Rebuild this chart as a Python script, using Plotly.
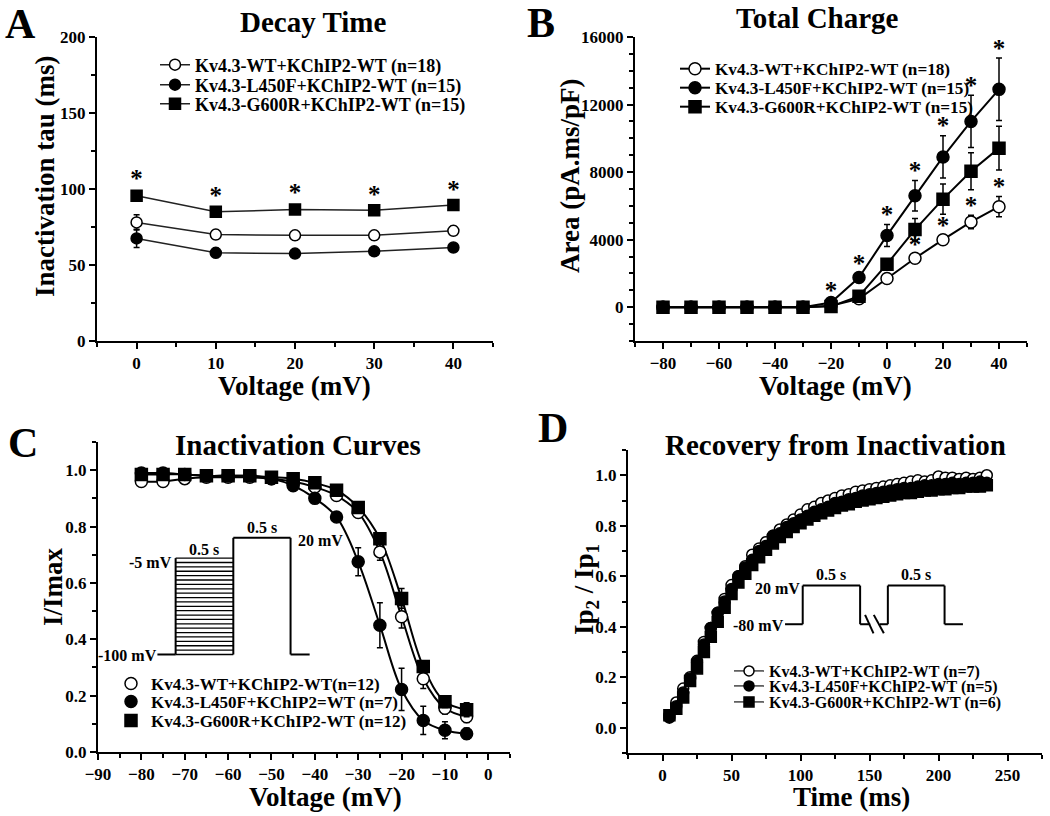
import plotly.graph_objects as go

FONT = "Liberation Serif"
W, H = 1050, 816

# ---------------- Data ----------------
# Panel A: Decay time
A_volt = [0, 10, 20, 30, 40]
A_wt = [78, 70, 69.5, 69.5, 72.5]
A_wt_err = [5, 3, 3, 3, 3]
A_l450f = [67.5, 58, 57.5, 59, 61.5]
A_l450f_err = [6, 3, 2, 2, 2]
A_g600r = [95.5, 85, 86.5, 86, 89.5]
A_g600r_err = [3, 2, 3, 2, 2]
A_labels = ["Kv4.3-WT+KChIP2-WT (n=18)", "Kv4.3-L450F+KChIP2-WT (n=15)", "Kv4.3-G600R+KChIP2-WT (n=15)"]

# Panel B: Total charge
B_volt = [-80, -70, -60, -50, -40, -30, -20, -10, 0, 10, 20, 30, 40]
B_wt = [0, 0, 0, 0, 0, 0, 80, 500, 1700, 2900, 4000, 5050, 5950]
B_wt_err = [0, 0, 0, 0, 0, 0, 50, 150, 250, 250, 250, 400, 600]
B_l450f = [0, 0, 0, 0, 0, 0, 280, 1760, 4250, 6600, 8900, 11000, 12900]
B_l450f_err = [0, 0, 0, 0, 0, 0, 150, 250, 650, 900, 1250, 1550, 1850]
B_g600r = [0, 0, 0, 0, 0, 0, 50, 650, 2550, 4600, 6400, 8050, 9420]
B_g600r_err = [0, 0, 0, 0, 0, 0, 50, 150, 300, 650, 900, 1100, 1300]
B_labels = ["Kv4.3-WT+KChIP2-WT (n=18)", "Kv4.3-L450F+KChIP2-WT (n=15)", "Kv4.3-G600R+KChIP2-WT (n=15)"]
B_star_l450f = [-20, -10, 0, 10, 20, 30, 40]
B_star_wt = [10, 20, 30, 40]

# Panel C: Inactivation curves
C_volt = [-80, -75, -70, -65, -60, -55, -50, -45, -40, -35, -30, -25, -20, -15, -10, -5]
C_wt = [0.96, 0.96, 0.97, 0.975, 0.975, 0.975, 0.97, 0.96, 0.94, 0.91, 0.85, 0.71, 0.48, 0.26, 0.155, 0.125]
C_wt_err = [0, 0, 0, 0, 0, 0, 0, 0, 0.01, 0.01, 0.01, 0.03, 0.04, 0.035, 0.02, 0.02]
C_l450f = [0.99, 0.99, 0.985, 0.98, 0.98, 0.98, 0.97, 0.945, 0.90, 0.834, 0.675, 0.45, 0.222, 0.112, 0.077, 0.065]
C_l450f_err = [0, 0, 0, 0, 0, 0, 0, 0.01, 0.01, 0.015, 0.05, 0.08, 0.075, 0.05, 0.03, 0.02]
C_g600r = [0.985, 0.985, 0.985, 0.98, 0.98, 0.98, 0.975, 0.97, 0.955, 0.929, 0.868, 0.757, 0.545, 0.303, 0.178, 0.15]
C_g600r_err = [0, 0, 0, 0, 0, 0, 0, 0, 0, 0.01, 0.01, 0.01, 0.035, 0.02, 0.02, 0.025]
C_labels = ["Kv4.3-WT+KChIP2-WT(n=12)", "Kv4.3-L450F+KChIP2=WT (n=7)", "Kv4.3-G600R+KChIP2-WT (n=12)"]

# Panel D: Recovery from inactivation
D_time = list(range(5, 240, 5))
D_wt = [0.05, 0.10, 0.155, 0.20, 0.265, 0.34, 0.395, 0.455, 0.51, 0.565,
        0.60, 0.64, 0.685, 0.71, 0.735, 0.76, 0.785, 0.805, 0.825, 0.845,
        0.865, 0.875, 0.89, 0.90, 0.91, 0.92, 0.925, 0.935, 0.94, 0.945,
        0.95, 0.955, 0.96, 0.965, 0.97, 0.975, 0.98, 0.975, 0.98, 0.995,
        0.99, 0.99, 0.985, 0.99, 0.985, 0.99, 1.0]
D_l450f = [0.04, 0.085, 0.14, 0.195, 0.26, 0.33, 0.395, 0.455, 0.50, 0.55,
           0.60, 0.635, 0.665, 0.70, 0.72, 0.76, 0.77, 0.795, 0.81, 0.825,
           0.84, 0.855, 0.865, 0.875, 0.89, 0.895, 0.905, 0.91, 0.92, 0.925,
           0.93, 0.935, 0.94, 0.945, 0.95, 0.95, 0.955, 0.96, 0.96, 0.965,
           0.965, 0.97, 0.965, 0.97, 0.97, 0.975, 0.97]
D_g600r = [0.05, 0.075, 0.12, 0.185, 0.235, 0.30, 0.36, 0.42, 0.475, 0.53,
           0.575, 0.61, 0.645, 0.675, 0.705, 0.73, 0.755, 0.775, 0.795, 0.81,
           0.825, 0.84, 0.85, 0.86, 0.87, 0.88, 0.885, 0.895, 0.90, 0.905,
           0.91, 0.915, 0.92, 0.925, 0.93, 0.93, 0.935, 0.94, 0.94, 0.945,
           0.945, 0.95, 0.95, 0.955, 0.955, 0.955, 0.96]
D_labels = ["Kv4.3-WT+KChIP2-WT (n=7)", "Kv4.3-L450F+KChIP2-WT (n=5)", "Kv4.3-G600R+KChIP2-WT (n=6)"]

# ---------------- Helpers ----------------
def fnt(size):
    return dict(family=FONT, size=size, color="black", weight="bold")

def px(x):
    return x / W

def py(y):
    return 1 - y / H

STYLES = [
    dict(symbol="circle", color="white"),
    dict(symbol="circle", color="black"),
    dict(symbol="square", color="black"),
]

fig = go.Figure()
legend_layouts = {}
legend_counter = [0]

def add_series(xs, ys, errs, i, xa, ya, mode, lw=1.5, lcolor="#222", msize=11):
    st = STYLES[i]
    fig.add_trace(go.Scatter(
        x=xs, y=ys, mode=mode, showlegend=False, xaxis=xa, yaxis=ya,
        line=dict(color=lcolor, width=lw),
        marker=dict(symbol=st["symbol"], size=msize, color=st["color"],
                    line=dict(color="black", width=1.5)),
        error_y=dict(type="data", array=errs, color="black", thickness=1.5, width=3,
                     visible=errs is not None),
    ))

def add_legend(labels, xa, ya, with_line, marker_x, rows, size, lcolor="#222", lw=1.5, msize=11):
    # one single-entry legend per row so the row spacing matches the figure
    for i, lab in enumerate(labels):
        st = STYLES[i]
        legend_counter[0] += 1
        n = legend_counter[0]
        lname = "legend" if n == 1 else f"legend{n}"
        fig.add_trace(go.Scatter(
            x=[None], y=[None], mode="lines+markers" if with_line else "markers",
            name=lab, legend=lname, xaxis=xa, yaxis=ya,
            line=dict(color=lcolor, width=lw),
            marker=dict(symbol=st["symbol"], size=msize, color=st["color"],
                        line=dict(color="black", width=1.5)),
        ))
        legend_layouts[lname] = dict(
            x=px(marker_x - 21), y=py(rows[i]), xanchor="left", yanchor="middle",
            bgcolor="rgba(0,0,0,0)", font=fnt(size), itemwidth=30, borderwidth=0)

def add_stars(xs, ys, xa, ya):
    fig.add_trace(go.Scatter(x=xs, y=ys, mode="text", text=["*"] * len(xs),
                             textposition="middle center", textfont=fnt(25),
                             showlegend=False, xaxis=xa, yaxis=ya, hoverinfo="skip"))

# ---- Panel A ----
for i, (v, e) in enumerate([(A_wt, A_wt_err), (A_l450f, A_l450f_err), (A_g600r, A_g600r_err)]):
    add_series(A_volt, v, e, i, "x", "y", "lines+markers")
add_stars(A_volt, [v + e + 7 for v, e in zip(A_g600r, A_g600r_err)], "x", "y")
add_legend(A_labels, "x", "y", True, 176, [65, 85, 104], 18)

# ---- Panel B ----
for i, (v, e) in enumerate([(B_wt, B_wt_err), (B_l450f, B_l450f_err), (B_g600r, B_g600r_err)]):
    add_series(B_volt, v, e, i, "x2", "y2", "lines+markers", lw=2, lcolor="black", msize=12)
sx, sy = [], []
for xv in B_star_l450f:
    k = B_volt.index(xv)
    sx.append(xv); sy.append(B_l450f[k] + B_l450f_err[k] + 450)
for xv in B_star_wt:
    k = B_volt.index(xv)
    sx.append(xv); sy.append(B_wt[k] + B_wt_err[k] + 450)
add_stars(sx, sy, "x2", "y2")
add_legend(B_labels, "x2", "y2", True, 696, [69, 88, 107], 17.2, lcolor="black", lw=2, msize=12)

# ---- Panel C ----
for v in [C_wt, C_g600r, C_l450f]:
    fig.add_trace(go.Scatter(x=C_volt, y=v, mode="lines", line=dict(color="black", width=2, shape="spline", smoothing=1.0),
                             showlegend=False, xaxis="x3", yaxis="y3", hoverinfo="skip"))
for i, (v, e) in enumerate([(C_wt, C_wt_err), (C_l450f, C_l450f_err), (C_g600r, C_g600r_err)]):
    add_series(C_volt, v, e, i, "x3", "y3", "markers", msize=12)
add_legend(C_labels, "x3", "y3", False, 132, [684, 702, 721], 17, msize=12)

# ---- Panel D ----
for i, v in enumerate([D_wt, D_l450f, D_g600r]):
    add_series(D_time, v, None, i, "x4", "y4", "markers", msize=11)
add_legend(D_labels, "x4", "y4", True, 750, [671, 686, 702], 16, lcolor="#444", lw=1.5, msize=10)

# ---------------- Axes ----------------
def axis(domain, rng, dtick, minor_dtick, anchor, tick0=0, fmt=None):
    d = dict(domain=domain, range=rng, anchor=anchor, showline=True, linecolor="black",
             linewidth=2, ticks="outside", ticklen=6, tickwidth=2, tickcolor="black",
             dtick=dtick, tick0=tick0, showgrid=False, zeroline=False,
             tickfont=fnt(17), automargin=False,
             minor=dict(dtick=minor_dtick, ticks="outside", ticklen=4, tickwidth=1.5,
                        tickcolor="black", showgrid=False))
    if fmt:
        d["tickformat"] = fmt
    return d

A_dom_x = [px(97), px(493)]
A_dom_y = [py(341), py(37)]
B_dom_x = [px(635), px(1027)]
C_dom_x = [px(98), px(510)]
C_dom_y = [py(752), py(442)]
D_dom_x = [px(628), px(1042)]
D_dom_y = [py(753), py(450)]

layout = dict(
    width=W, height=H, margin=dict(l=0, r=0, t=0, b=0, pad=0, autoexpand=False),
    paper_bgcolor="white", plot_bgcolor="white",
    font=fnt(15),
    xaxis=axis(A_dom_x, [-5, 45], 10, 5, "y"),
    yaxis=axis(A_dom_y, [0, 200], 50, 25, "x"),
    xaxis2=axis(B_dom_x, [-90, 50], 20, 10, "y2", tick0=-80),
    yaxis2=axis(A_dom_y, [-2000, 16000], 4000, 1000, "x2", fmt="d"),
    xaxis3=axis(C_dom_x, [-90, 5], 10, 5, "y3"),
    yaxis3=axis(C_dom_y, [0, 1.1], 0.2, 0.1, "x3", fmt=".1f"),
    xaxis4=axis(D_dom_x, [-25, 275], 50, 25, "y4"),
    yaxis4=axis(D_dom_y, [-0.1, 1.1], 0.2, 0.1, "x4", fmt=".1f"),
)
layout.update(legend_layouts)
fig.update_layout(**layout)

# ---------------- Annotations ----------------
ann = []
def text(x, y, s, size, xanchor="center", angle=0, ref="paper", xr=None, yr=None):
    d = dict(x=x, y=y, text=s, showarrow=False, font=fnt(size), xanchor=xanchor,
             yanchor="middle", textangle=angle)
    if ref == "paper":
        d["xref"] = "paper"; d["yref"] = "paper"
    else:
        d["xref"] = xr; d["yref"] = yr
    ann.append(d)

# panel letters
text(px(20), py(24), "A", 42)
text(px(541), py(23), "B", 42)
text(px(23), py(443), "C", 42)
text(px(553), py(428), "D", 42)
# titles
text(px(313), py(22), "Decay Time", 29)
text(px(817), py(18), "Total Charge", 29)
text(px(298), py(445), "Inactivation Curves", 29)
text(px(835), py(445), "Recovery from Inactivation", 29)
# axis titles
text(px(294), py(386), "Voltage (mV)", 27)
text(px(835), py(386), "Voltage (mV)", 27)
text(px(325), py(797), "Voltage (mV)", 27)
text(px(851), py(797), "Time (ms)", 27)
text(px(45), py(176), "Inactivation tau (ms)", 27, angle=-90)
text(px(570), py(176), "Area (pA.ms/pF)", 27, angle=-90)
text(px(53), py(587), "I/Imax", 27, angle=-90)
text(px(586), py(590), "Ip<sub>2</sub> / Ip<sub>1</sub>", 27, angle=-90)

# ---------------- Inset protocols ----------------
shapes = []
def seg(x0, y0, x1, y1, xr, yr, w=2):
    shapes.append(dict(type="line", x0=x0, y0=y0, x1=x1, y1=y1, xref=xr, yref=yr,
                       line=dict(color="black", width=w)))

# Panel C protocol (voltage-step diagram)
cb, ch, cp = 0.346, 0.688, 0.760
cx = [-76.3, -72.1, -58.8, -45.6, -41.2]
seg(cx[0], cb, cx[1], cb, "x3", "y3")
seg(cx[1], cb, cx[1], ch, "x3", "y3")
n_h = 22
for k in range(n_h + 1):
    yy = cb + (ch - cb) * k / n_h
    seg(cx[1], yy, cx[2], yy, "x3", "y3", w=1.3)
seg(cx[2], cb, cx[2], cp, "x3", "y3")
seg(cx[2], cp, cx[3], cp, "x3", "y3")
seg(cx[3], cp, cx[3], cb, "x3", "y3")
seg(cx[3], cb, cx[4], cb, "x3", "y3")
text(cx[1] - 0.3, 0.673, "-5 mV", 16, xanchor="right", ref="data", xr="x3", yr="y3")
text((cx[1] + cx[2]) / 2, 0.718, "0.5 s", 16, ref="data", xr="x3", yr="y3")
text((cx[2] + cx[3]) / 2, 0.795, "0.5 s", 16, ref="data", xr="x3", yr="y3")
text(cx[3] + 1.2, 0.752, "20 mV", 16, xanchor="left", ref="data", xr="x3", yr="y3")
text(cx[0] + 0.3, 0.343, "-100 mV", 16, xanchor="right", ref="data", xr="x3", yr="y3")

# Panel D protocol
db, dt = 0.410, 0.563
dx = [88.8, 101.6, 143.2, 163.3, 204.4, 217.7]
seg(dx[0], db, dx[1], db, "x4", "y4")
seg(dx[1], db, dx[1], dt, "x4", "y4")
seg(dx[1], dt, dx[2], dt, "x4", "y4")
seg(dx[2], dt, dx[2], db, "x4", "y4")
seg(dx[2], db, 150.5, db, "x4", "y4")
seg(157.5, db, dx[3], db, "x4", "y4")
seg(146.8, 0.447, 152.9, 0.374, "x4", "y4")
seg(153.1, 0.447, 160.4, 0.374, "x4", "y4")
seg(dx[3], db, dx[3], dt, "x4", "y4")
seg(dx[3], dt, dx[4], dt, "x4", "y4")
seg(dx[4], dt, dx[4], db, "x4", "y4")
seg(dx[4], db, dx[5], db, "x4", "y4")
text(dx[1] - 0.5, 0.553, "20 mV", 16, xanchor="right", ref="data", xr="x4", yr="y4")
text(dx[0] + 0.5, 0.405, "-80 mV", 16, xanchor="right", ref="data", xr="x4", yr="y4")
text((dx[1] + dx[2]) / 2, 0.607, "0.5 s", 16, ref="data", xr="x4", yr="y4")
text((dx[3] + dx[4]) / 2, 0.607, "0.5 s", 16, ref="data", xr="x4", yr="y4")

fig.update_layout(annotations=ann, shapes=shapes)
# the page body has a default 8px margin; remove it so the figure fills the window
fig.write_html("out.html", config={"displayModeBar": False},
               post_script="document.body.style.margin='0';")
